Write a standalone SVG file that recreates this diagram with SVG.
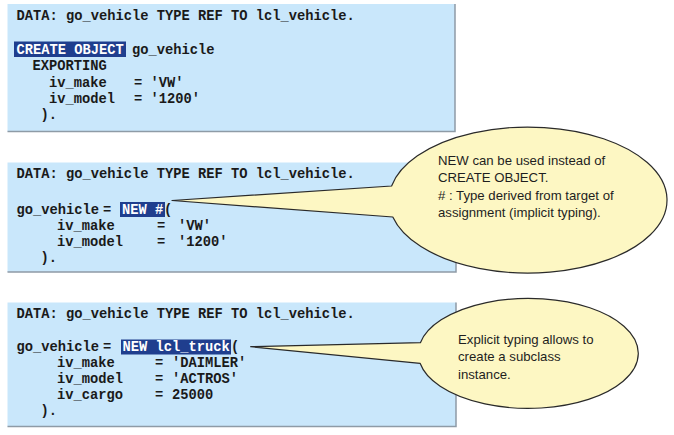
<svg xmlns="http://www.w3.org/2000/svg" width="674" height="435" viewBox="0 0 674 435">
<style>
.box{fill:#c9e7fb}
.shadow{fill:none;stroke:#8e9ba6;stroke-width:1.5}
.code{font-family:"Liberation Mono","DejaVu Sans Mono",monospace;font-weight:bold;font-size:13.75px;fill:#1a1a1a;white-space:pre}
.hl{fill:#1f3e8e}
.hlt{fill:#ffffff}
.callout{fill:#fdf7c3;stroke:#2a2a2a;stroke-width:1.2;stroke-linejoin:round}
.note{font-family:"Liberation Sans",Arial,sans-serif;font-size:13.2px;fill:#1e1e1e}
</style>
<rect width="674" height="435" fill="#ffffff"/>
<g id="box1">
<rect class="box" x="7.5" y="4" width="447.5" height="127.5"/>
<polyline class="shadow" points="455,4 455,131.5 7.5,131.5"/>
<text class="code" x="16.5" y="20">DATA: go_vehicle TYPE REF TO lcl_vehicle.</text>
<rect class="hl" x="14" y="41.5" width="112" height="15.5"/>
<text class="code hlt" x="16.5" y="54">CREATE OBJECT</text>
<text class="code" x="132" y="54">go_vehicle</text>
<text class="code" x="32.5" y="70">EXPORTING</text>
<text class="code" x="49" y="86.5">iv_make</text>
<text class="code" x="134" y="86.5">= 'VW'</text>
<text class="code" x="49" y="102.5">iv_model</text>
<text class="code" x="134" y="102.5">= '1200'</text>
<text class="code" x="40.5" y="119">).</text>
</g>
<g id="box2">
<rect class="box" x="7.5" y="162.5" width="448.5" height="109.5"/>
<polyline class="shadow" points="456,162.5 456,272 7.5,272"/>
<text class="code" x="16.5" y="178">DATA: go_vehicle TYPE REF TO lcl_vehicle.</text>
<text class="code" x="16.5" y="214">go_vehicle</text>
<text class="code" x="103" y="214">=</text>
<rect class="hl" x="120" y="202" width="45" height="15"/>
<text class="code hlt" x="122" y="214">NEW #</text>
<text class="code" x="164" y="214">(</text>
<text class="code" x="57" y="230">iv_make</text>
<text class="code" x="157" y="230">=</text>
<text class="code" x="178" y="230">'VW'</text>
<text class="code" x="57" y="246">iv_model</text>
<text class="code" x="157" y="246">=</text>
<text class="code" x="178" y="246">'1200'</text>
<text class="code" x="40.5" y="262">).</text>
</g>
<g id="box3">
<rect class="box" x="7.5" y="302.5" width="448.5" height="124"/>
<polyline class="shadow" points="456,302.5 456,426.5 7.5,426.5"/>
<text class="code" x="16.5" y="317.5">DATA: go_vehicle TYPE REF TO lcl_vehicle.</text>
<text class="code" x="16.5" y="351">go_vehicle</text>
<text class="code" x="103" y="351">=</text>
<rect class="hl" x="121" y="339.5" width="110" height="15"/>
<text class="code hlt" x="122.5" y="351">NEW lcl_truck</text>
<text class="code" x="231" y="351">(</text>
<text class="code" x="57" y="367">iv_make</text>
<text class="code" x="155" y="367">=</text>
<text class="code" x="172" y="367">'DAIMLER'</text>
<text class="code" x="57" y="383">iv_model</text>
<text class="code" x="155" y="383">=</text>
<text class="code" x="172" y="383">'ACTROS'</text>
<text class="code" x="57" y="399">iv_cargo</text>
<text class="code" x="155" y="399">=</text>
<text class="code" x="172" y="399">25000</text>
<text class="code" x="40.5" y="414.5">).</text>
</g>
<g id="callout1">
<path class="callout" d="M391.6,186 L172,200.5 L392.8,217 A139,73 0 1 0 391.6,186 Z"/>
<text class="note" x="438" y="164.5">NEW can be used instead of</text>
<text class="note" x="438" y="182">CREATE OBJECT.</text>
<text class="note" x="438" y="199.5"># : Type derived from target of</text>
<text class="note" x="438" y="217">assignment (implicit typing).</text>
</g>
<g id="callout2">
<path class="callout" d="M420.4,342.7 L250.7,346.7 L420.1,363.3 A110,55 0 1 0 420.4,342.7 Z"/>
<text class="note" x="458" y="344">Explicit typing allows to</text>
<text class="note" x="458" y="361.3">create a subclass</text>
<text class="note" x="458" y="378.5">instance.</text>
</g>
<g id="connectors"/>
</svg>
